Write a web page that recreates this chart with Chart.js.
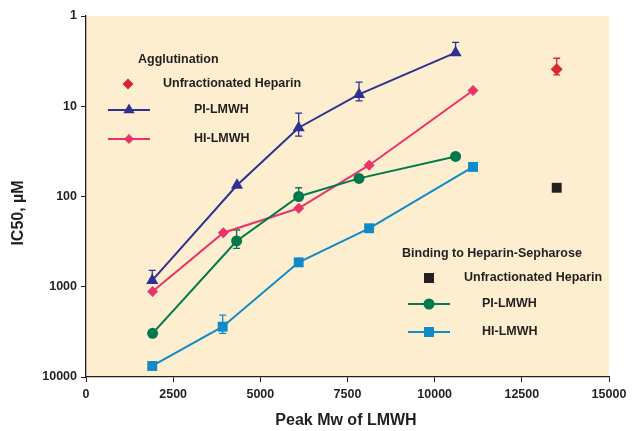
<!DOCTYPE html>
<html>
<head>
<meta charset="utf-8">
<script src="https://cdn.jsdelivr.net/npm/chart.js@4/dist/chart.umd.min.js"></script>
<style>
  html, body { margin: 0; padding: 0; background: #ffffff; }
  #wrap { width: 632px; height: 431px; position: relative; }
</style>
</head>
<body>
<div id="wrap"><canvas id="c" width="632" height="431"></canvas></div>
<script>
// Peak molecular weight (x) and IC50 in µM (y) for each series
const aggPiMw    = [1900, 4330, 6100, 7830, 10600];
const aggPiIc50  = [850, 75, 17.3, 7.4, 2.55];
const aggPiErrHi = [660, null, 11.9, 5.4, 1.96];
const aggPiErrLo = [null, null, 21.4, 8.7, null];

const aggHiMw    = [1910, 3940, 6100, 8120, 11100];
const aggHiIc50  = [1130, 252, 135, 45, 6.7];

const aggUfhMw    = [13500];
const aggUfhIc50  = [3.9];
const aggUfhErrHi = [2.94];
const aggUfhErrLo = [4.5];

const bindPiMw    = [1910, 4320, 6100, 7830, 10600];
const bindPiIc50  = [3280, 311, 100, 63, 36];
const bindPiErrHi = [null, 235, 80, null, null];
const bindPiErrLo = [null, 375, null, null, null];

const bindHiMw    = [1900, 3920, 6100, 8120, 11100];
const bindHiIc50  = [7550, 2770, 536, 225, 47];
const bindHiErrHi = [null, 2060, null, null, null];
const bindHiErrLo = [null, 3280, null, null, null];

const bindUfhMw   = [13500];
const bindUfhIc50 = [80];

const xTicks = [0, 2500, 5000, 7500, 10000, 12500, 15000];
const yTicks = [1, 10, 100, 1000, 10000];

const NAVY = '#2e3192', PINK = '#e8336b', RED = '#d7282f',
      GREEN = '#007a4d', BLUE = '#0f8bca', BLACK = '#231f20',
      TEXT = '#231f20', PANEL = '#fdeed0';
const FONT = '"Liberation Sans", Arial, sans-serif';

function pts(xs, ys) { return xs.map((x, i) => ({ x: x, y: ys[i] })); }

// Fill the plotting area
const panelBg = {
  id: 'panelBg',
  beforeDraw(chart) {
    const a = chart.chartArea, ctx = chart.ctx;
    ctx.save();
    ctx.fillStyle = PANEL;
    ctx.fillRect(a.left, a.top, a.right - a.left, a.bottom - a.top);
    ctx.restore();
  }
};

// Vertical error bars with caps, positioned through the chart scales
const errorBars = {
  id: 'errorBars',
  beforeDatasetsDraw(chart) {
    const ctx = chart.ctx, xs = chart.scales.x, ys = chart.scales.y;
    chart.data.datasets.forEach(ds => {
      if (!ds.errHi && !ds.errLo) return;
      ctx.save();
      ctx.strokeStyle = ds.borderColor;
      ctx.lineWidth = 1.3;
      ds.data.forEach((p, i) => {
        const px = xs.getPixelForValue(p.x), py = ys.getPixelForValue(p.y);
        [ds.errHi && ds.errHi[i], ds.errLo && ds.errLo[i]].forEach(v => {
          if (v == null) return;
          const ey = ys.getPixelForValue(v);
          ctx.beginPath();
          ctx.moveTo(px, py); ctx.lineTo(px, ey);
          ctx.moveTo(px - 3.5, ey); ctx.lineTo(px + 3.5, ey);
          ctx.stroke();
        });
      });
      ctx.restore();
    });
  }
};

function marker(ctx, shape, x, y, r, color) {
  ctx.fillStyle = color;
  ctx.beginPath();
  if (shape === 'triangle') {
    ctx.moveTo(x, y - r);
    ctx.lineTo(x + r * 0.866, y + r / 2);
    ctx.lineTo(x - r * 0.866, y + r / 2);
  } else if (shape === 'diamond') {
    ctx.moveTo(x, y - r); ctx.lineTo(x + r, y); ctx.lineTo(x, y + r); ctx.lineTo(x - r, y);
  } else if (shape === 'circle') {
    ctx.arc(x, y, r, 0, Math.PI * 2);
  } else {
    ctx.rect(x - r, y - r, 2 * r, 2 * r);
  }
  ctx.closePath();
  ctx.fill();
}

// Two in-panel legends and the axis titles
const annotations = {
  id: 'annotations',
  afterDraw(chart) {
    const ctx = chart.ctx;
    ctx.save();
    ctx.fillStyle = TEXT;
    ctx.textBaseline = 'middle';
    ctx.textAlign = 'left';
    ctx.font = 'bold 12.5px ' + FONT;

    function row(y, textX, label, shape, r, color, withLine, lx0) {
      const cx = lx0 + 21;
      if (withLine) {
        ctx.strokeStyle = color; ctx.lineWidth = 2;
        ctx.beginPath(); ctx.moveTo(lx0, y); ctx.lineTo(lx0 + 42, y); ctx.stroke();
      }
      marker(ctx, shape, cx, y, r, color);
      ctx.fillStyle = TEXT;
      ctx.fillText(label, textX, y);
    }

    ctx.fillText('Agglutination', 138, 60);
    row(84, 163, 'Unfractionated Heparin', 'diamond', 5.5, RED, false, 107);
    row(110, 194, 'PI-LMWH', 'triangle', 6.5, NAVY, true, 108);
    row(139, 194, 'HI-LMWH', 'diamond', 5, PINK, true, 108);

    ctx.fillText('Binding to Heparin-Sepharose', 402, 254);
    row(278, 464, 'Unfractionated Heparin', 'square', 5, BLACK, false, 408);
    row(304, 482, 'PI-LMWH', 'circle', 5.5, GREEN, true, 408);
    row(332, 482, 'HI-LMWH', 'square', 5, BLUE, true, 408);

    ctx.font = 'bold 16px ' + FONT;
    ctx.textAlign = 'center';
    ctx.fillText('Peak Mw of LMWH', 346, 421);
    ctx.translate(19, 213);
    ctx.rotate(-Math.PI / 2);
    ctx.fillText('IC50, \u00b5M', 0, 0);
    ctx.restore();
  }
};

const lineDs = (label, xs, ys, color, shape, r, extra) => Object.assign({
  label: label,
  data: pts(xs, ys),
  borderColor: color,
  backgroundColor: color,
  borderWidth: 2,
  pointStyle: shape,
  pointRadius: r,
  pointBorderWidth: 0,
  pointBackgroundColor: color,
  showLine: true,
  tension: 0
}, extra || {});

new Chart(document.getElementById('c'), {
  type: 'line',
  data: {
    datasets: [
      lineDs('Binding HI-LMWH', bindHiMw, bindHiIc50, BLUE, 'rect', 7, { errHi: bindHiErrHi, errLo: bindHiErrLo }),
      lineDs('Binding PI-LMWH', bindPiMw, bindPiIc50, GREEN, 'circle', 5.5, { errHi: bindPiErrHi, errLo: bindPiErrLo }),
      lineDs('Binding UFH', bindUfhMw, bindUfhIc50, BLACK, 'rect', 7, { showLine: false }),
      lineDs('Agglutination HI-LMWH', aggHiMw, aggHiIc50, PINK, 'rectRot', 5.5),
      lineDs('Agglutination PI-LMWH', aggPiMw, aggPiIc50, NAVY, 'triangle', 7, { errHi: aggPiErrHi, errLo: aggPiErrLo }),
      lineDs('Agglutination UFH', aggUfhMw, aggUfhIc50, RED, 'rectRot', 6, { showLine: false, errHi: aggUfhErrHi, errLo: aggUfhErrLo })
    ]
  },
  options: {
    responsive: false,
    animation: false,
    layout: { padding: { top: 16, right: 23, bottom: 0, left: 0 } },
    plugins: { legend: { display: false }, tooltip: { enabled: false } },
    scales: {
      x: {
        type: 'linear',
        min: 0, max: 15000,
        afterFit(s) { s.height = 54; },
        afterBuildTicks(s) { s.ticks = xTicks.map(v => ({ value: v })); },
        grid: { display: true, drawOnChartArea: false, drawTicks: true, tickLength: 5, color: BLACK, tickWidth: 1 },
        border: { display: true, color: BLACK, width: 1.3 },
        ticks: { color: TEXT, font: { family: FONT, size: 12.5, weight: 'bold' }, padding: 5, maxRotation: 0,
                 callback: v => String(v) }
      },
      y: {
        type: 'logarithmic',
        reverse: true,
        min: 1, max: 10000,
        afterFit(s) { s.width = 86; },
        afterBuildTicks(s) { s.ticks = yTicks.map(v => ({ value: v })); },
        grid: { display: true, drawOnChartArea: false, drawTicks: true, tickLength: 5, color: BLACK, tickWidth: 1 },
        border: { display: true, color: BLACK, width: 1.3 },
        ticks: { color: TEXT, font: { family: FONT, size: 12.5, weight: 'bold' }, padding: 4,
                 callback: v => String(v) }
      }
    }
  },
  plugins: [panelBg, errorBars, annotations]
});
</script>
</body>
</html>
